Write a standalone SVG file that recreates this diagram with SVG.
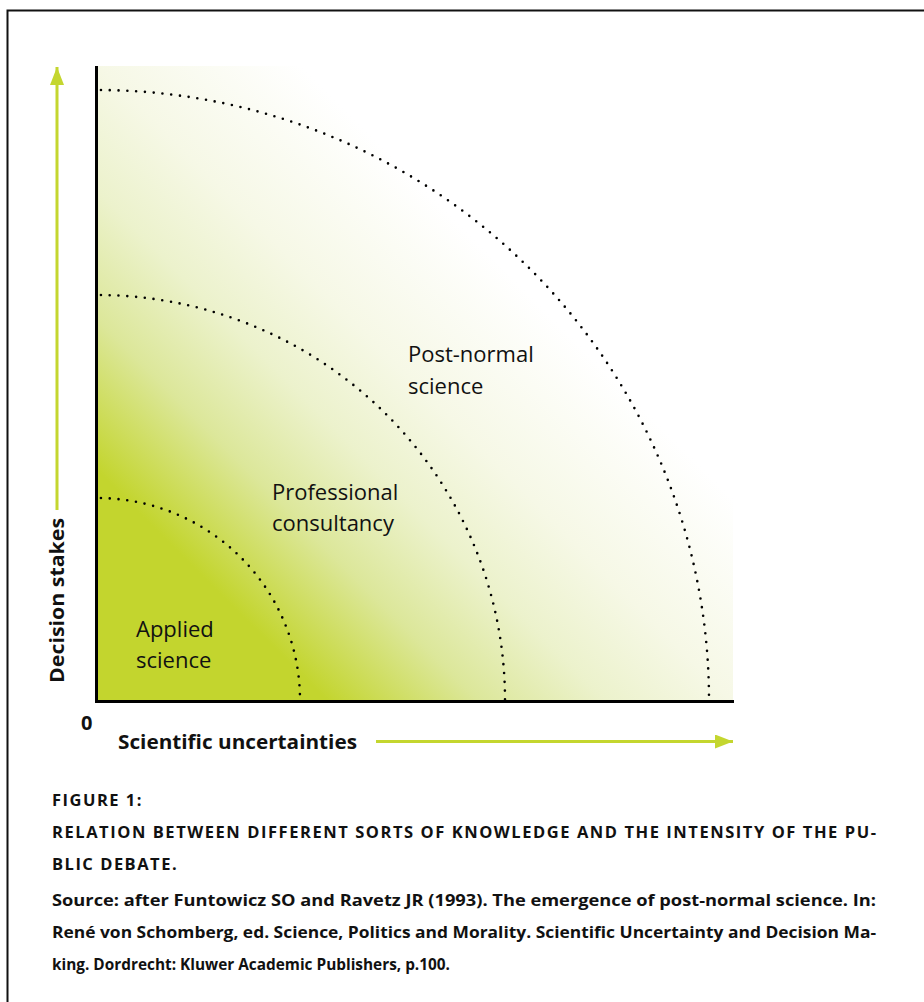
<svg xmlns="http://www.w3.org/2000/svg" width="924" height="1002" viewBox="0 0 924 1002">
  <style>
    .lbl { font-family: "Open Sans", "Noto Sans", sans-serif; font-size: 22px; fill: #111; }
    .axis-t { font-family: "Open Sans", "Noto Sans", sans-serif; font-size: 20px; font-weight: bold; fill: #111; }
    .cap { font-family: "Open Sans", "Noto Sans", sans-serif; font-size: 16.5px; font-weight: bold; fill: #111; }
    .zone { fill: none; stroke: #000; stroke-width: 2.6; stroke-linecap: round; stroke-dasharray: 0 8.8; }
    .axis { stroke: #000; stroke-width: 3; fill: none; }
    .garrow { stroke: #c4d62f; stroke-width: 3; fill: none; }
  </style>
  <defs>
    <linearGradient id="field" gradientUnits="userSpaceOnUse" x1="98" y1="700" x2="733" y2="66">
      <stop offset="0" stop-color="#c3d52e"/>
      <stop offset="0.18" stop-color="#c3d52e"/>
      <stop offset="0.30" stop-color="#dce79a"/>
      <stop offset="0.40" stop-color="#ecf2cc"/>
      <stop offset="0.50" stop-color="#f6f8e6"/>
      <stop offset="0.66" stop-color="#ffffff"/>
    </linearGradient>
    <marker id="head" viewBox="0 0 18 14" refX="18" refY="7" markerUnits="userSpaceOnUse" markerWidth="18" markerHeight="14" orient="auto">
      <path d="M0,0 L18,7 L0,14 Z" fill="#c4d62f"/>
    </marker>
  </defs>

  <!-- page frame -->
  <path d="M7.5,1002 V10.5 H924" fill="none" stroke="#111" stroke-width="2"/>

  <!-- plot field -->
  <rect x="98" y="66" width="635" height="635" fill="url(#field)"/>

  <!-- zone boundaries -->
  <g id="zones">
    <path class="zone" d="M97,498 A203,202 0 0 1 300,700" stroke-dashoffset="-4"/>
    <path class="zone" d="M97,295 A408,405 0 0 1 505,700" stroke-dashoffset="-4"/>
    <path class="zone" d="M97,90 A612,610 0 0 1 709,700" stroke-dashoffset="-4"/>
  </g>

  <!-- axes -->
  <g id="axes">
    <path class="axis" d="M96.5,66 V701.5 H734"/>
    <text class="axis-t" x="81" y="730" font-size="19">0</text>
  </g>

  <g id="connectors">
    <line class="garrow" x1="57" y1="510" x2="57" y2="67" marker-end="url(#head)"/>
    <line class="garrow" x1="376" y1="741.5" x2="733" y2="741.5" marker-end="url(#head)"/>
  </g>

  <g id="axis-y-label">
    <text class="axis-t" transform="translate(64,683) rotate(-90)" textLength="165" lengthAdjust="spacingAndGlyphs">Decision stakes</text>
  </g>
  <g id="axis-x-label">
    <text class="axis-t" x="118" y="749" textLength="239" lengthAdjust="spacingAndGlyphs">Scientific uncertainties</text>
  </g>

  <g id="applied">
    <text class="lbl" x="136" y="637">Applied</text>
    <text class="lbl" x="136" y="668">science</text>
  </g>
  <g id="professional">
    <text class="lbl" x="272" y="500">Professional</text>
    <text class="lbl" x="272" y="531">consultancy</text>
  </g>
  <g id="postnormal">
    <text class="lbl" x="408" y="362">Post-normal</text>
    <text class="lbl" x="408" y="394">science</text>
  </g>

  <g id="caption">
    <text class="cap" x="52" y="805.5" letter-spacing="1.5">FIGURE 1:</text>
    <text class="cap" x="52" y="837.5" textLength="824" lengthAdjust="spacing">RELATION BETWEEN DIFFERENT SORTS OF KNOWLEDGE AND THE INTENSITY OF THE PU-</text>
    <text class="cap" x="52" y="869.5" letter-spacing="1.5">BLIC DEBATE.</text>
    <text class="cap" x="52" y="906" textLength="824" lengthAdjust="spacingAndGlyphs">Source: after Funtowicz SO and Ravetz JR (1993). The emergence of post-normal science. In:</text>
    <text class="cap" x="52" y="938" textLength="824" lengthAdjust="spacingAndGlyphs">René von Schomberg, ed. Science, Politics and Morality. Scientific Uncertainty and Decision Ma-</text>
    <text class="cap" x="52" y="970" textLength="398" lengthAdjust="spacingAndGlyphs">king. Dordrecht: Kluwer Academic Publishers, p.100.</text>
  </g>
</svg>
